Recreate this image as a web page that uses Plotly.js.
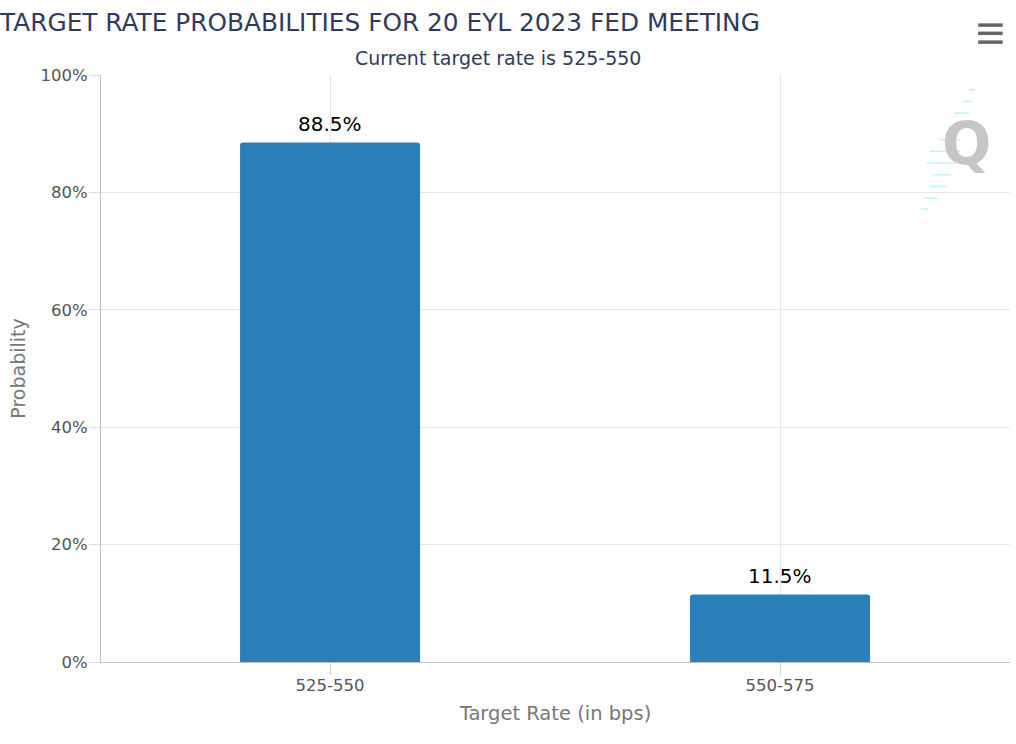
<!DOCTYPE html>
<html>
<head>
<meta charset="utf-8">
<script src="https://cdn.plot.ly/plotly-3.0.1.min.js"></script>
<style>html,body{margin:0;padding:0;background:#fff;}#chart{width:1016px;height:744px;}</style>
</head>
<body>
<div id="chart"></div>
<script>
const categories = ["525-550", "550-575"];
const probabilities = [88.5, 11.5];
const yTickValues = [0, 20, 40, 60, 80, 100];
const yTickLabels = ["0%", "20%", "40%", "60%", "80%", "100%"];

const font = "DejaVu Sans, Verdana, sans-serif";

const trace = {
  type: "bar",
  x: categories,
  y: probabilities,
  width: 0.4,
  marker: {color: "#2980b9", cornerradius: 3, line: {width: 0}},
  hoverinfo: "x+y"
};

const valueLabels = categories.map((c, i) => ({
  text: probabilities[i].toFixed(1) + "%",
  x: c, y: probabilities[i], xref: "x", yref: "y",
  xanchor: "center", yanchor: "bottom", yshift: 5,
  showarrow: false,
  font: {family: font, size: 20, color: "#000"}
}));

const hamburger = [1.085, 1.071, 1.056].map(yy => ({
  type: "line", xref: "paper", yref: "paper", x0: 0.965, x1: 0.992, y0: yy, y1: yy,
  line: {color: "#666", width: 3.5}
}));

const streak = [
  [0.955, 0.962, 0.975], [0.948, 0.958, 0.955], [0.938, 0.955, 0.935],
  [0.932, 0.945, 0.910], [0.922, 0.945, 0.890], [0.912, 0.945, 0.870],
  [0.908, 0.940, 0.850], [0.915, 0.935, 0.830], [0.912, 0.930, 0.810],
  [0.906, 0.920, 0.790], [0.902, 0.910, 0.772]
].map(s => ({
  type: "line", xref: "paper", yref: "paper", x0: s[0], x1: s[1], y0: s[2], y1: s[2],
  line: {color: "#c4f0fb", width: 1.5}
}));

const layout = {
  width: 1016,
  height: 744,
  margin: {l: 101, r: 6, t: 75, b: 82},
  paper_bgcolor: "#fff",
  plot_bgcolor: "#fff",
  font: {family: font, color: "#555"},
  showlegend: false,
  title: {
    text: "TARGET RATE PROBABILITIES FOR 20 EYL 2023 FED MEETING",
    x: 0, xref: "container", xanchor: "left",
    y: 0.97, yref: "container", yanchor: "middle",
    font: {family: font, size: 24.8, color: "#2f3b5b"}
  },
  xaxis: {
    type: "category",
    range: [-0.509, 1.511],
    showgrid: true, gridcolor: "#e6e6e6", gridwidth: 1,
    showline: true, linecolor: "#c0c0c0", linewidth: 1,
    ticks: "outside", ticklen: 12, tickcolor: "#d0d0d0",
    ticklabelstandoff: -4,
    tickfont: {family: font, size: 16.5, color: "#555"},
    title: {text: "Target Rate (in bps)", font: {family: font, size: 19.5, color: "#777"}, standoff: 12},
    fixedrange: true
  },
  yaxis: {
    range: [0, 100],
    tickvals: yTickValues, ticktext: yTickLabels,
    showgrid: true, gridcolor: "#e6e6e6", gridwidth: 1,
    zeroline: false,
    showline: true, linecolor: "#c0c0c0", linewidth: 1,
    ticks: "outside", ticklen: 11, tickcolor: "#dcdcdc",
    ticklabelstandoff: -2,
    tickfont: {family: font, size: 16.5, color: "#555"},
    title: {text: "Probability", font: {family: font, size: 19, color: "#777"}, standoff: 9},
    fixedrange: true
  },
  annotations: valueLabels.concat([
    {text: "Current target rate is 525-550", xref: "paper", yref: "paper", x: 0.4365, y: 1.029,
     xanchor: "center", yanchor: "middle", showarrow: false,
     font: {family: font, size: 19, color: "#2f3b5b"}},
    {text: "<b>Q</b>", xref: "paper", yref: "paper", x: 0.9516, y: 0.882,
     xanchor: "center", yanchor: "middle", showarrow: false,
     font: {family: "DejaVu Sans, sans-serif", size: 58, color: "#c6c6c6"}}
  ]),
  shapes: hamburger.concat(streak)
};

Plotly.newPlot("chart", [trace], layout, {displayModeBar: false});
</script>
</body>
</html>
